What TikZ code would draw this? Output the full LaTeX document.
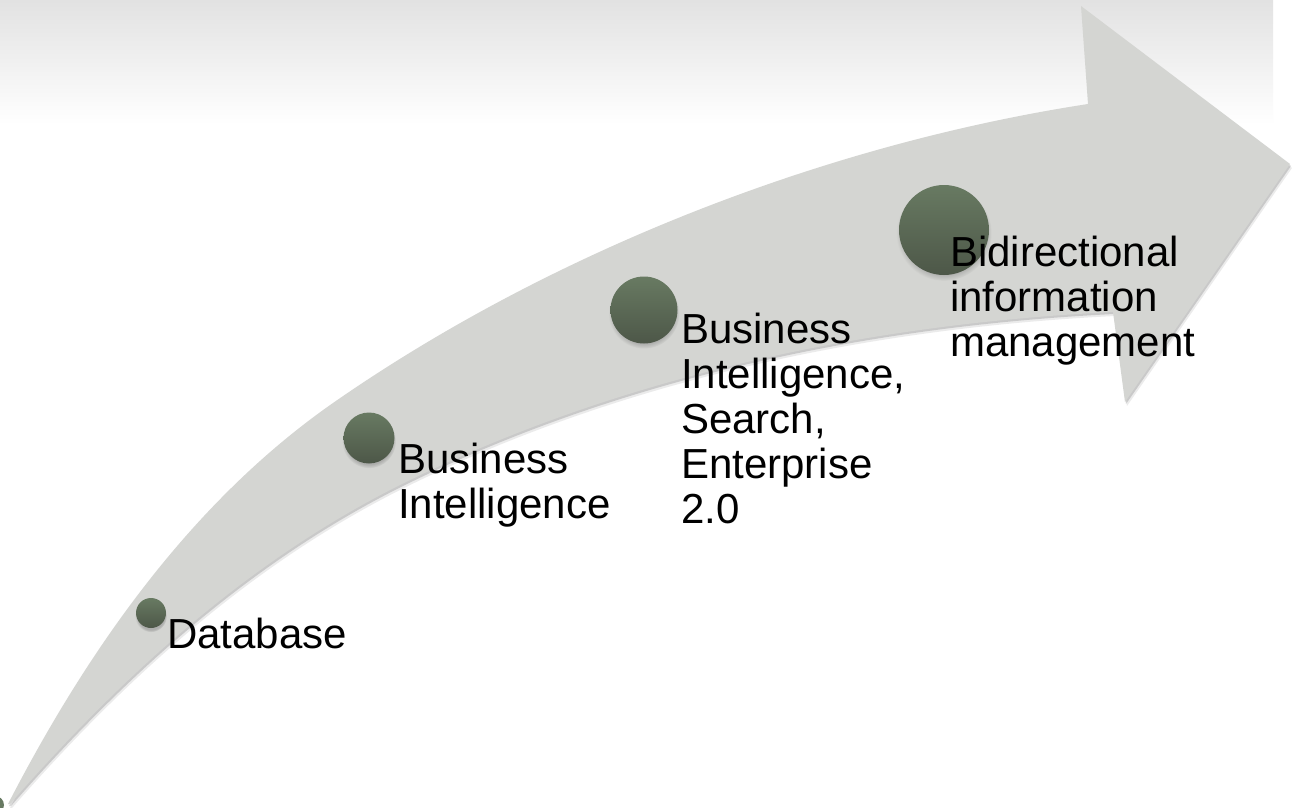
\documentclass[tikz,border=0pt]{standalone}
\usepackage{fontspec}
\setmainfont{Liberation Sans}
\usetikzlibrary{shadows}
\definecolor{arrowgray}{HTML}{D4D5D2}
\definecolor{circtop}{HTML}{687A62}
\definecolor{circbot}{HTML}{4D5748}
\definecolor{bgtop}{HTML}{E2E2E2}
\newcommand{\ArrowShape}{(8,804) .. controls (90,645) and (194,500) .. (333,403)
  .. controls (547,254) and (821,145) .. (1088,104)
  -- (1081,6) -- (1290,164) -- (1125,402) -- (1113,312)
  .. controls (868,324) and (619,376) .. (400,485)
  .. controls (248,561) and (122,676) .. (10,804) -- cycle}
\begin{document}
\begin{tikzpicture}[x=1pt,y=-1pt,
  stagedot/.style={circle, inner sep=0pt, minimum size=#1, top color=circtop, bottom color=circbot,
    circular drop shadow={shadow xshift=0pt, shadow yshift=-3pt, shadow scale=1.06, opacity=0.45}},
  stagetext/.style={anchor=north west, inner sep=0pt, align=left, font=\fontsize{42}{45}\selectfont}]
\useasboundingbox (0,0) rectangle (1299,808);
\fill[white] (0,0) rectangle (1299,808);
% top background gradient
\shade[top color=bgtop, bottom color=white] (0,0) rectangle (1273,125);
% arrow shadow and body
\fill[black, opacity=0.08, xshift=2pt, yshift=-4pt] \ArrowShape;
\fill[black, opacity=0.14, xshift=1pt, yshift=-2pt] \ArrowShape;
\fill[arrowgray] \ArrowShape;
% partly hidden object at the lower left corner
\begin{scope}
  \clip (0,0) rectangle (1299,808);
  \fill[circtop] (-5,805) circle (9);
\end{scope}
% stages
\node[stagedot=30pt] (c1) at (151,613) {};
\node[stagedot=51pt] (c2) at (369,438) {};
\node[stagedot=67pt] (c3) at (644,310) {};
\node[stagedot=90pt] (c4) at (944,230) {};
\node[stagetext] (t1) at (167,618) {Database};
\node[stagetext] (t2) at (398,443) {Business\\Intelligence};
\node[stagetext] (t3) at (681,313) {Business\\Intelligence,\\Search,\\Enterprise\\2.0};
\node[stagetext] (t4) at (950,236) {Bidirectional\\information\\management};
\end{tikzpicture}
\end{document}
